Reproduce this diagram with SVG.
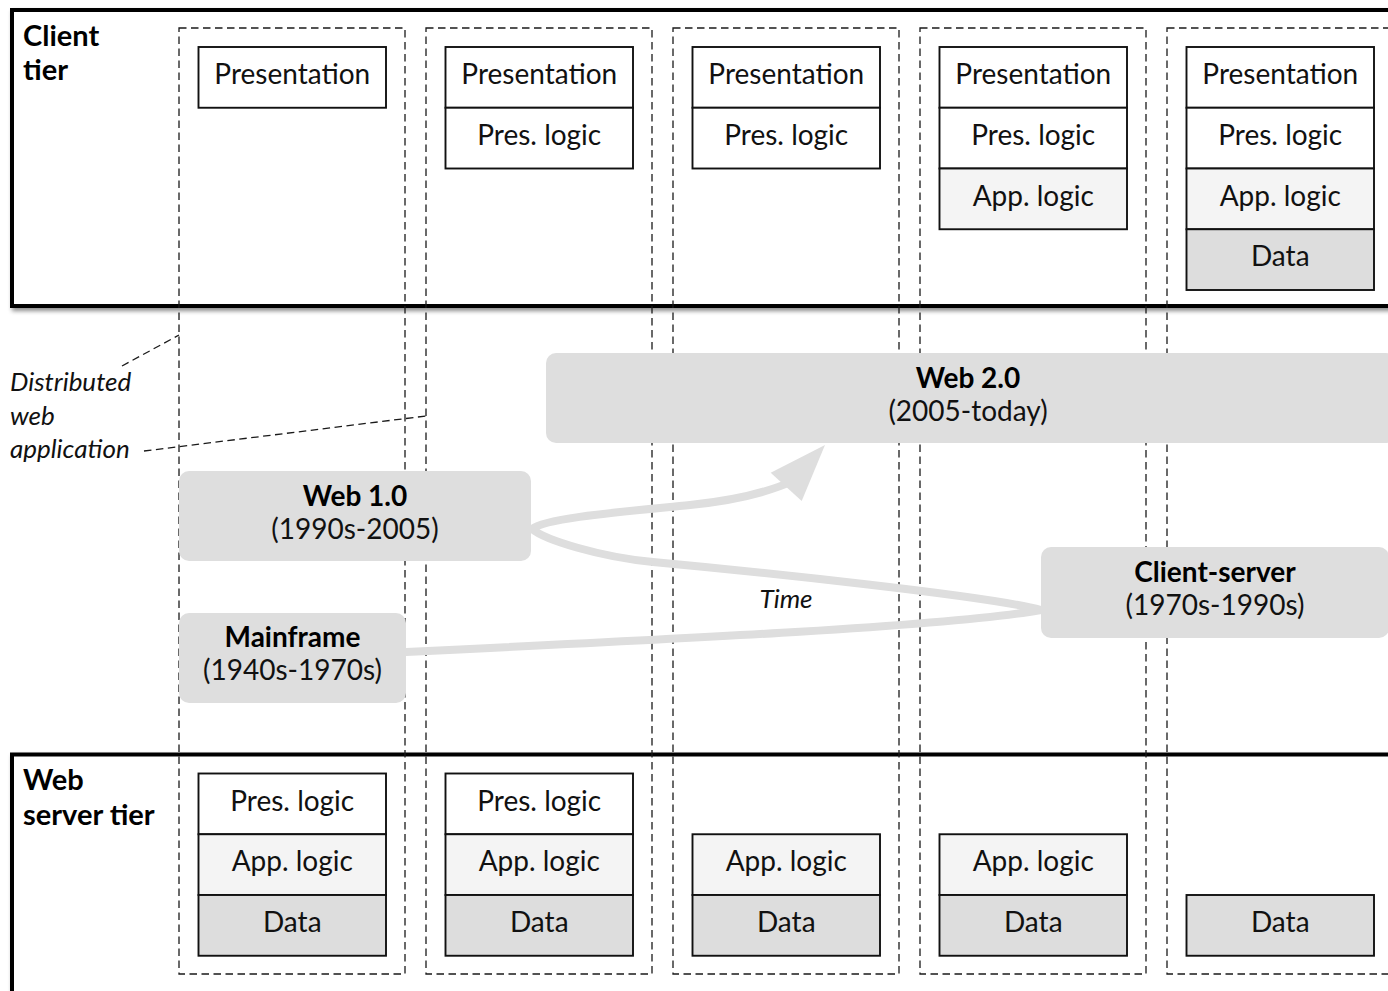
<svg xmlns="http://www.w3.org/2000/svg" width="1388" height="991" viewBox="0 0 1388 991">
  <defs>
    <filter id="frameShadow" x="-5%" y="-5%" width="110%" height="115%">
      <feDropShadow dx="2" dy="3" stdDeviation="2" flood-color="#000" flood-opacity="0.45"/>
    </filter>
  </defs>
  <style>
    .frame { fill: #fff; stroke: #000; stroke-width: 4; filter: url(#frameShadow); }
    .col { fill: none; stroke: #1a1a1a; stroke-width: 1.3; stroke-dasharray: 7.5 4.5; }
    .lead { fill: none; stroke: #1a1a1a; stroke-width: 1.3; stroke-dasharray: 7.5 4.5; }
    .layer { stroke: #111; stroke-width: 1.9; }
    .pres { fill: #fff; }
    .plog { fill: #fff; }
    .alog { fill: #f4f4f4; }
    .data { fill: #dddddd; }
    .txt { font-family: Lato, "Open Sans", "Liberation Sans", sans-serif; font-size: 28px; fill: #111; text-anchor: middle; }
    .tier { font-family: Lato, "Open Sans", "Liberation Sans", sans-serif; font-size: 29px; font-weight: bold; fill: #000; }
    .era { fill: #dedede; }
    .era-b { font-family: Lato, "Open Sans", "Liberation Sans", sans-serif; font-size: 28px; font-weight: bold; fill: #000; text-anchor: middle; }
    .era-r { font-family: Lato, "Open Sans", "Liberation Sans", sans-serif; font-size: 28px; fill: #111; text-anchor: middle; }
    .note { font-family: Lato, "Open Sans", "Liberation Sans", sans-serif; font-size: 26px; font-style: italic; fill: #111; }
    .time { fill: none; stroke: #dedede; stroke-width: 8; stroke-linecap: round; stroke-linejoin: round; }
  </style>

  <!-- tier frames -->
  <g id="client-tier">
    <rect class="frame" x="12" y="10" width="1400" height="296"/>
    <text class="tier" x="23" y="46">Client</text>
    <text class="tier" x="23" y="80">tier</text>
  </g>
  <g id="web-server-tier">
    <rect class="frame" x="12" y="754.5" width="1400" height="260"/>
    <text class="tier" x="23" y="790">Web</text>
    <text class="tier" x="23" y="825">server tier</text>
  </g>

  <!-- architecture columns: client stack on top, server stack below -->
  <g id="col-mainframe">
    <rect class="col" x="179" y="28" width="226" height="946"/>
    <rect class="layer pres" x="198.5" y="47" width="187.5" height="60.75"/>
    <text class="txt" x="292.25" y="84">Presentation</text>
    <rect class="layer plog" x="198.5" y="773.5" width="187.5" height="60.75"/>
    <text class="txt" x="292.25" y="810.5">Pres. logic</text>
    <rect class="layer alog" x="198.5" y="834.25" width="187.5" height="60.75"/>
    <text class="txt" x="292.25" y="871.25">App. logic</text>
    <rect class="layer data" x="198.5" y="895" width="187.5" height="60.75"/>
    <text class="txt" x="292.25" y="932">Data</text>
  </g>
  <g id="col-web1">
    <rect class="col" x="426" y="28" width="226" height="946"/>
    <rect class="layer pres" x="445.5" y="47" width="187.5" height="60.75"/>
    <text class="txt" x="539.25" y="84">Presentation</text>
    <rect class="layer plog" x="445.5" y="107.75" width="187.5" height="60.75"/>
    <text class="txt" x="539.25" y="144.75">Pres. logic</text>
    <rect class="layer plog" x="445.5" y="773.5" width="187.5" height="60.75"/>
    <text class="txt" x="539.25" y="810.5">Pres. logic</text>
    <rect class="layer alog" x="445.5" y="834.25" width="187.5" height="60.75"/>
    <text class="txt" x="539.25" y="871.25">App. logic</text>
    <rect class="layer data" x="445.5" y="895" width="187.5" height="60.75"/>
    <text class="txt" x="539.25" y="932">Data</text>
  </g>
  <g id="col-client-server">
    <rect class="col" x="673" y="28" width="226" height="946"/>
    <rect class="layer pres" x="692.5" y="47" width="187.5" height="60.75"/>
    <text class="txt" x="786.25" y="84">Presentation</text>
    <rect class="layer plog" x="692.5" y="107.75" width="187.5" height="60.75"/>
    <text class="txt" x="786.25" y="144.75">Pres. logic</text>
    <rect class="layer alog" x="692.5" y="834.25" width="187.5" height="60.75"/>
    <text class="txt" x="786.25" y="871.25">App. logic</text>
    <rect class="layer data" x="692.5" y="895" width="187.5" height="60.75"/>
    <text class="txt" x="786.25" y="932">Data</text>
  </g>
  <g id="col-web2">
    <rect class="col" x="920" y="28" width="226" height="946"/>
    <rect class="layer pres" x="939.5" y="47" width="187.5" height="60.75"/>
    <text class="txt" x="1033.25" y="84">Presentation</text>
    <rect class="layer plog" x="939.5" y="107.75" width="187.5" height="60.75"/>
    <text class="txt" x="1033.25" y="144.75">Pres. logic</text>
    <rect class="layer alog" x="939.5" y="168.5" width="187.5" height="60.75"/>
    <text class="txt" x="1033.25" y="205.5">App. logic</text>
    <rect class="layer alog" x="939.5" y="834.25" width="187.5" height="60.75"/>
    <text class="txt" x="1033.25" y="871.25">App. logic</text>
    <rect class="layer data" x="939.5" y="895" width="187.5" height="60.75"/>
    <text class="txt" x="1033.25" y="932">Data</text>
  </g>
  <g id="col-distributed">
    <rect class="col" x="1167" y="28" width="226" height="946"/>
    <rect class="layer pres" x="1186.5" y="47" width="187.5" height="60.75"/>
    <text class="txt" x="1280.25" y="84">Presentation</text>
    <rect class="layer plog" x="1186.5" y="107.75" width="187.5" height="60.75"/>
    <text class="txt" x="1280.25" y="144.75">Pres. logic</text>
    <rect class="layer alog" x="1186.5" y="168.5" width="187.5" height="60.75"/>
    <text class="txt" x="1280.25" y="205.5">App. logic</text>
    <rect class="layer data" x="1186.5" y="229.25" width="187.5" height="60.75"/>
    <text class="txt" x="1280.25" y="266.25">Data</text>
    <rect class="layer data" x="1186.5" y="895" width="187.5" height="60.75"/>
    <text class="txt" x="1280.25" y="932">Data</text>
  </g>

  <!-- annotation label -->
  <g id="distributed-label">
    <text class="note" x="10" y="391">Distributed</text>
    <text class="note" x="10" y="425">web</text>
    <text class="note" x="10" y="458">application</text>
  </g>

  <!-- connectors: leader lines and the time line -->
  <g id="connectors">
    <line class="lead" x1="122" y1="366" x2="179" y2="335"/>
    <line class="lead" x1="144" y1="451" x2="426" y2="416"/>
    <path class="time" d="M406,652 C700,638 950,626 1041,610 C990,596 760,572 653,562 C600,557 545,540 532,529 C545,518 620,512 690,505 C730,501 765,494 795,480"/>
    <polygon points="825,445 770.7,472.7 801.7,501" fill="#dedede"/>
    <text class="note" x="786" y="608" text-anchor="middle">Time</text>
  </g>

  <!-- eras -->
  <g id="era-web2">
    <rect class="era" x="546" y="353" width="850" height="90" rx="10"/>
    <text class="era-b" x="968" y="388">Web 2.0</text>
    <text class="era-r" x="968" y="421">(2005-today)</text>
  </g>
  <g id="era-web1">
    <rect class="era" x="179" y="471" width="352" height="90" rx="10"/>
    <text class="era-b" x="355" y="506">Web 1.0</text>
    <text class="era-r" x="355" y="539">(1990s-2005)</text>
  </g>
  <g id="era-mainframe">
    <rect class="era" x="179" y="613" width="227" height="90" rx="10"/>
    <text class="era-b" x="292.5" y="647">Mainframe</text>
    <text class="era-r" x="292.5" y="680">(1940s-1970s)</text>
  </g>
  <g id="era-client-server">
    <rect class="era" x="1041" y="547" width="348" height="91" rx="10"/>
    <text class="era-b" x="1215" y="582">Client-server</text>
    <text class="era-r" x="1215" y="615">(1970s-1990s)</text>
  </g>
</svg>
